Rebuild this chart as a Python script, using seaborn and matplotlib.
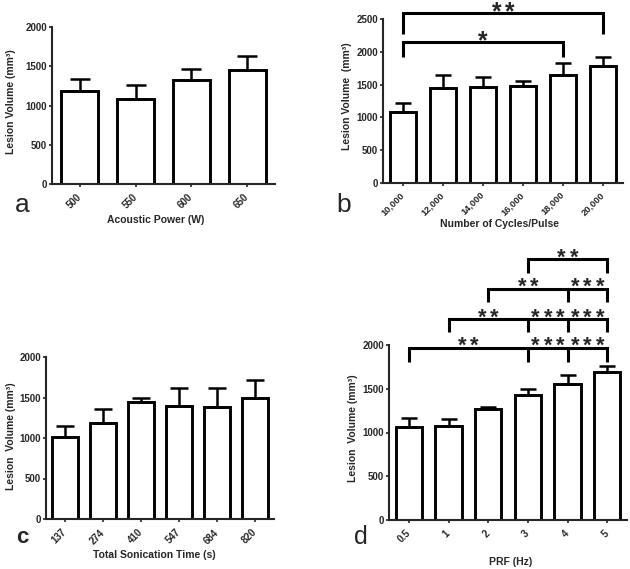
import numpy as np
import pandas as pd
import matplotlib
matplotlib.use("Agg")
import matplotlib.pyplot as plt
import seaborn as sns
from matplotlib.textpath import TextPath
from matplotlib.font_manager import FontProperties

# ---------------- data ----------------
a_cats = ["500", "550", "600", "650"]
a_mean = [1185, 1085, 1330, 1450]
a_sem = [150, 173, 132, 180]

b_cats = ["10,000", "12,000", "14,000", "16,000", "18,000", "20,000"]
b_mean = [1075, 1450, 1460, 1480, 1643, 1780]
b_sem = [137, 193, 158, 77, 183, 147]

c_cats = ["137", "274", "410", "547", "684", "820"]
c_mean = [1016, 1180, 1439, 1393, 1381, 1492]
c_sem = [136, 181, 49, 230, 242, 221]

d_cats = ["0.5", "1", "2", "3", "4", "5"]
d_mean = [1067, 1074, 1265, 1432, 1550, 1695]
d_sem = [95, 76, 23, 69, 103, 69]

# significance brackets: (y, leg positions, leg bottom, [(label x, label)])
b_brackets = [
    (2590, [0, 5], 2270, [(2.5, "**")]),
    (2155, [0, 4], 1925, [(2.0, "*")]),
]
d_brackets = [
    (1970, [0, 3, 4, 5], 1810, [(1.5, "**"), (3.5, "***"), (4.5, "***")]),
    (2295, [1, 3, 4, 5], 2150, [(2.0, "**"), (3.5, "***"), (4.5, "***")]),
    (2640, [2, 4, 5], 2495, [(3.0, "**"), (4.5, "***")]),
    (2980, [3, 5], 2825, [(4.0, "**")]),
]

# ---------------- style ----------------
sns.set_theme(style="ticks")
plt.rcParams["font.family"] = ["Liberation Sans", "DejaVu Sans"]
plt.rcParams["axes.linewidth"] = 1.5

W, H = 630, 569
fig = plt.figure(figsize=(W / 100, H / 100), dpi=100)
fig.patch.set_facecolor("white")


def box(l, r, t, b):
    return [l / W, 1 - b / H, (r - l) / W, (b - t) / H]


def panel(rect, cats, mean, sem, ymax, capsize, width, xlab_size, xpad=6):
    ax = fig.add_axes(rect)
    df = pd.DataFrame({"cat": cats, "val": mean})
    sns.barplot(data=df, x="cat", y="val", ax=ax, color="white",
                edgecolor="black", linewidth=2.1, width=width,
                errorbar=None, saturation=1)
    n = len(cats)
    ax.errorbar(np.arange(n), mean, yerr=[np.zeros(n), sem], fmt="none",
                ecolor="black", elinewidth=1.8, capsize=capsize,
                capthick=1.8, zorder=1)
    ax.set_ylim(0, ymax)
    ax.set_xlim(-0.5, n - 0.5)
    ax.set_yticks(np.arange(0, ymax + 1, 500))
    ax.set_xlabel("")
    ax.set_ylabel("")
    for s in ["top", "right"]:
        ax.spines[s].set_visible(False)
    for s in ["left", "bottom"]:
        ax.spines[s].set_linewidth(1.5)
    ax.tick_params(axis="y", length=2.5, width=1.2, pad=1, labelsize=7)
    ax.tick_params(axis="x", length=2.5, width=1.2, pad=xpad, labelsize=xlab_size)
    for lab in ax.get_yticklabels():
        lab.set_fontweight("bold")
    for lab in ax.get_xticklabels():
        lab.set_fontweight("bold")
        lab.set_rotation(45)
        lab.set_ha("right")
        lab.set_va("center")
        lab.set_rotation_mode("anchor")
    ax.set_facecolor("white")
    return ax


# glyph metrics of the (bold) asterisk in em units, for precise placement
_fp = FontProperties(family="Liberation Sans", weight="bold")
_ext = TextPath((0, 0), "*", size=1, prop=_fp).get_extents()


def stars(ax, x, y, txt, height_pt, spacing_pt, gap_pt):
    fs = height_pt / _ext.height
    n = len(txt)
    xc = (_ext.x0 + _ext.x1) / 2 * fs
    for k, ch in enumerate(txt):
        dx = (k - (n - 1) / 2) * spacing_pt - xc
        dy = gap_pt - _ext.y0 * fs
        ax.annotate(ch, xy=(x, y), xytext=(dx, dy),
                    textcoords="offset points", ha="left", va="baseline",
                    fontsize=fs, fontweight="bold", annotation_clip=False)


def brackets(ax, specs, height_pt, spacing_pt, gap_pt):
    for y, legs, bot, labels in specs:
        x0, x1 = legs[0], legs[-1]
        ax.plot([x0, x0, x1, x1], [bot, y, y, bot], color="black", lw=2.2,
                clip_on=False, solid_joinstyle="miter", solid_capstyle="butt")
        for xm in legs[1:-1]:
            ax.plot([xm, xm], [y, bot], color="black", lw=2.2, clip_on=False,
                    solid_capstyle="butt")
        for lx, txt in labels:
            stars(ax, lx, y, txt, height_pt, spacing_pt, gap_pt)


ax_a = panel(box(52, 275, 27, 184), a_cats, a_mean, a_sem, 2000, 7.2, 0.66, 7)
ax_b = panel(box(383, 623, 19, 183), b_cats, b_mean, b_sem, 2500, 6.0, 0.67, 6.7, 5)
ax_c = panel(box(46, 274, 357, 519), c_cats, c_mean, c_sem, 2000, 6.5, 0.68, 7)
ax_d = panel(box(389, 627, 345, 520), d_cats, d_mean, d_sem, 2000, 6.0, 0.67, 7)

brackets(ax_b, b_brackets, 6.6, 9.6, 1.0)
brackets(ax_d, d_brackets, 5.8, 8.85, 1.9)


def ftext(x, y, s, **kw):
    fig.text(x / W, 1 - y / H, s, **kw)


# axis titles
ftext(156, 220, "Acoustic Power (W)", ha="center", va="center",
      fontsize=7.5, fontweight="bold")
ftext(500, 224, "Number of Cycles/Pulse", ha="center", va="center",
      fontsize=7.5, fontweight="bold")
ftext(154, 555, "Total Sonication Time (s)", ha="center", va="center",
      fontsize=7.5, fontweight="bold")
ftext(511, 562, "PRF (Hz)", ha="center", va="center",
      fontsize=7.5, fontweight="bold")

ftext(11, 102, "Lesion Volume (mm³)", ha="center", va="center",
      rotation=90, fontsize=7.5, fontweight="bold")
ftext(347.5, 96, "Lesion Volume  (mm³)", ha="center", va="center",
      rotation=90, fontsize=7.5, fontweight="bold")
ftext(11, 436, "Lesion  Volume (mm³)", ha="center", va="center",
      rotation=90, fontsize=7.5, fontweight="bold")
ftext(352.5, 428, "Lesion  Volume (mm³)", ha="center", va="center",
      rotation=90, fontsize=7.5, fontweight="bold")

# panel letters
ftext(15, 211.7, "a", ha="left", va="baseline", fontsize=19)
ftext(336, 211.7, "b", ha="left", va="baseline", fontsize=19)
ftext(16, 543.3, "c", ha="left", va="baseline", fontsize=16, fontweight="bold")
ftext(354, 544.3, "d", ha="left", va="baseline", fontsize=18)

fig.savefig("out.png", dpi=100, facecolor="white")
